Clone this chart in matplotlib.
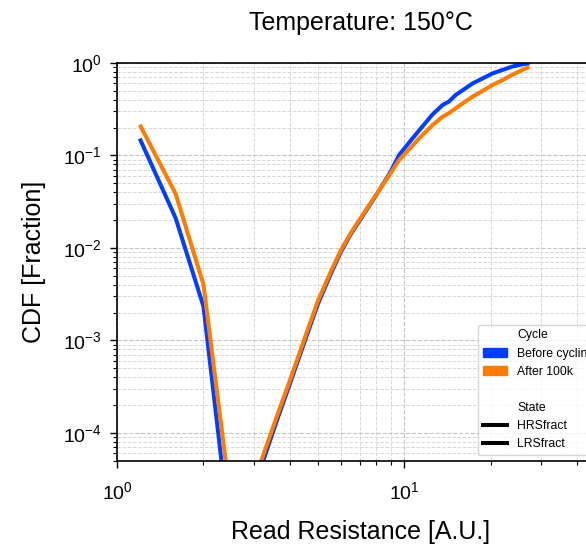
import matplotlib
matplotlib.use("Agg")
import matplotlib.pyplot as plt
import matplotlib.patches as mpatches
from matplotlib.lines import Line2D

plt.rcParams['font.family'] = ['Liberation Sans', 'DejaVu Sans']
plt.rcParams['mathtext.default'] = 'regular'

# ---- data ----
cycles = ["Before cycling", "After 100k"]
states = ["HRSfract", "LRSfract"]
colors = ["#023eff", "#ff7c00"]

lrs_x = [1.2, 1.6, 2.0, 2.4]
lrs_before = [0.152, 0.021, 0.00233, 1.8e-5]
lrs_after = [0.215, 0.0384, 0.0040, 4.5e-5]

hrs_x = [3.0, 3.2, 3.6, 4.0, 4.5, 5.0, 5.5, 6.0, 6.5, 7.0, 8.0, 9.0, 9.6,
         10.5, 11.3, 12.5, 13.6, 14.3, 15.1, 16.0, 17.3, 18.5, 20.3, 22.0,
         23.7, 25.5, 27.3]
hrs_before = [2.6e-5, 4.6e-5, 1.35e-4, 3.4e-4, 9.7e-4, 2.45e-3, 4.9e-3,
              8.9e-3, 0.0139, 0.0198, 0.0375, 0.068, 0.101, 0.143, 0.188,
              0.274, 0.351, 0.381, 0.45, 0.508, 0.60, 0.666, 0.77, 0.84,
              0.91, 0.96, 0.99]
hrs_after = [3.0e-5, 5.3e-5, 1.5e-4, 3.7e-4, 1.05e-3, 2.65e-3, 5.2e-3,
             9.3e-3, 0.0143, 0.0204, 0.038, 0.0655, 0.0894, 0.12, 0.154,
             0.211, 0.262, 0.286, 0.323, 0.366, 0.432, 0.487, 0.577, 0.653,
             0.74, 0.826, 0.91]

W, H = 586, 545
fig = plt.figure(figsize=(W / 100, H / 100), dpi=100)
ax = fig.add_axes([117 / W, (H - 460.7) / H, 488 / W, 397.8 / H])

lw = 2.9
for c, col, hy, ly in zip(cycles, colors, [hrs_before, hrs_after], [lrs_before, lrs_after]):
    ax.plot(hrs_x, hy, color=col, lw=lw, solid_capstyle='butt')
    ax.plot(lrs_x, ly, color=col, lw=lw, solid_capstyle='butt')

ax.set_xscale('log')
ax.set_yscale('log')
ax.set_xlim(1, 50)
ax.set_ylim(5e-5, 1)

ax.grid(True, which='major', ls='--', color='#c4c4c4', lw=0.8)
ax.grid(True, which='minor', ls='--', color='#d8d8d8', lw=0.7)
ax.set_axisbelow(True)

ax.tick_params(which='major', direction='out', length=5, width=1, labelsize=14)
ax.tick_params(axis='x', which='major', pad=10)
ax.tick_params(axis='y', which='major', pad=6)
ax.tick_params(which='minor', direction='out', length=3, width=0.8)
for s in ax.spines.values():
    s.set_linewidth(1.2)

ax.set_title("Temperature: 150°C", fontsize=18, pad=24)
ax.set_xlabel("Read Resistance [A.U.]", fontsize=18, labelpad=12)
ax.set_ylabel("CDF [Fraction]", fontsize=18, labelpad=12)

handles = [mpatches.Patch(visible=False)]
labels = ["Cycle"]
for c, col in zip(cycles, colors):
    handles.append(mpatches.Patch(facecolor=col, edgecolor=col))
    labels.append(c)
handles.append(mpatches.Patch(visible=False)); labels.append(" ")
handles.append(mpatches.Patch(visible=False)); labels.append("State")
for s in states:
    handles.append(Line2D([], [], color='black', lw=lw))
    labels.append(s)
ax.legend(handles, labels, loc='lower left', fontsize=8.8, labelspacing=0.5,
          bbox_to_anchor=(478 / W, (H - 455) / H), bbox_transform=fig.transFigure,
          borderaxespad=0, handlelength=2.0, framealpha=0.8)

fig.savefig("out.png", dpi=100)
